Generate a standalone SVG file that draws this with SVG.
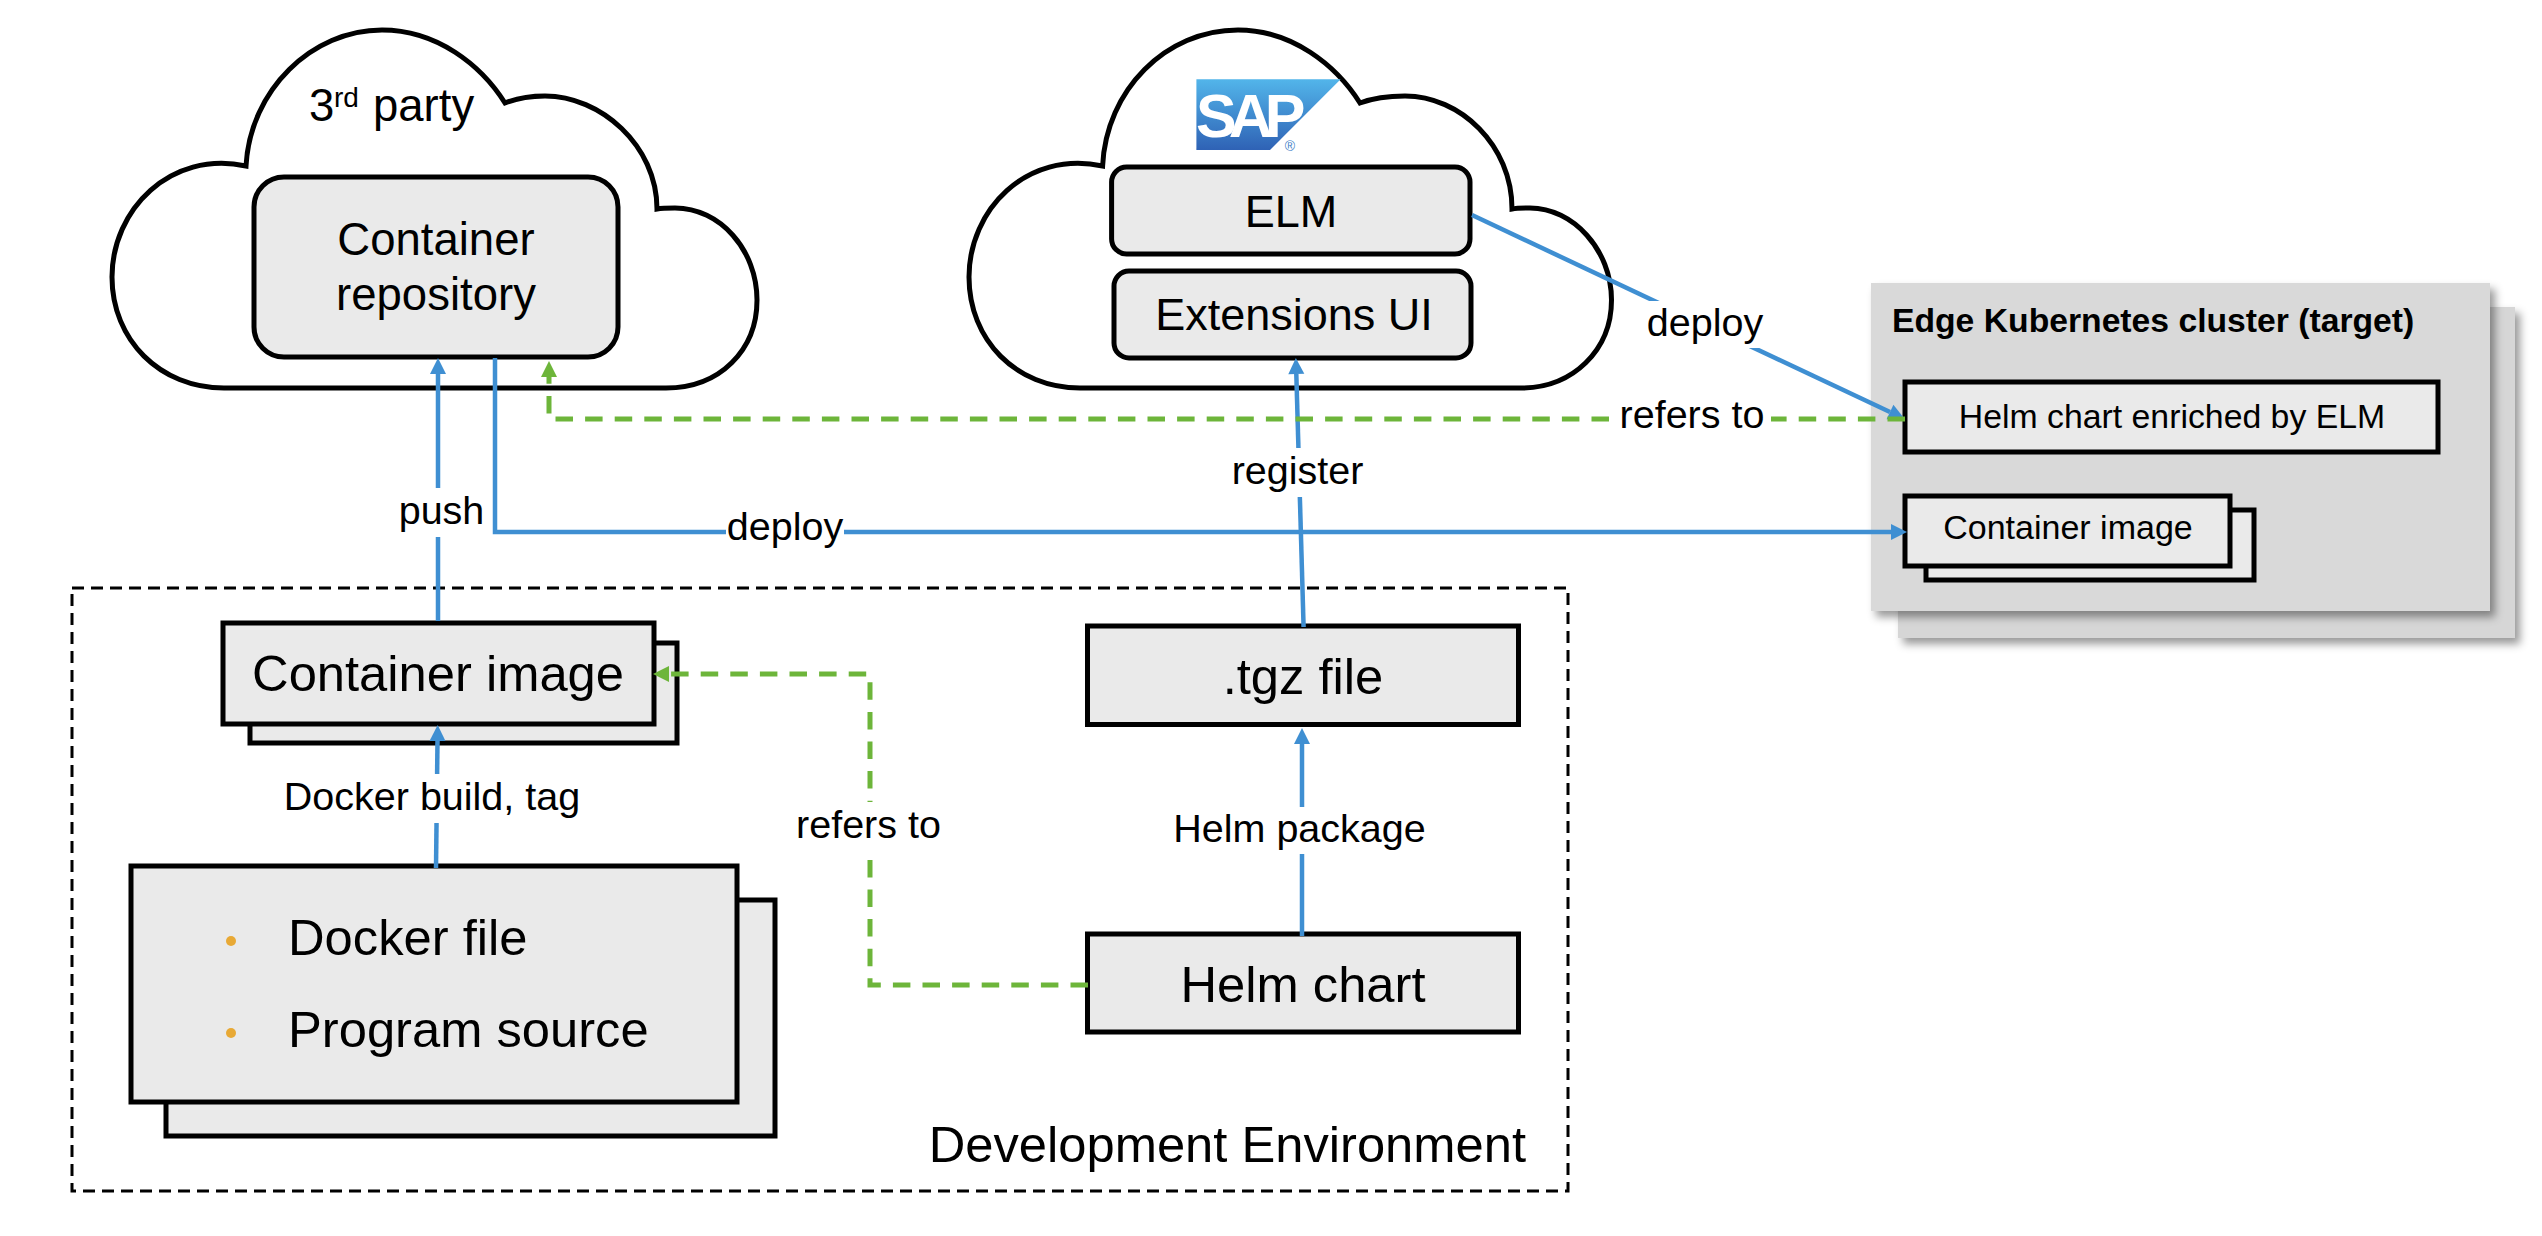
<svg xmlns="http://www.w3.org/2000/svg" width="2542" height="1236" viewBox="0 0 2542 1236">
<style>
text{font-family:"Liberation Sans",Arial,sans-serif;fill:#000}
.box{fill:#eaeaea;stroke:#000;stroke-width:5}
.cloud{fill:#fff;stroke:#000;stroke-width:5;stroke-linejoin:miter}
.blue{fill:none;stroke:#3f8fd2;stroke-width:4.5;marker-end:url(#ab)}
.green{fill:none;stroke:#6db53a;stroke-width:5;stroke-dasharray:17.5 12.1}
.mask{fill:#fff}
.lg{font-size:50.700px}.md{font-size:45.500px}.sm{font-size:39.500px}.c{text-anchor:middle}
</style>
<defs>
<marker id="ab" markerUnits="userSpaceOnUse" markerWidth="18" markerHeight="18" viewBox="0 0 18 18" refX="1" refY="9" orient="auto"><path d="M1 1L17 9L1 17Z" fill="#3f8fd2"/></marker>
<marker id="ag" markerUnits="userSpaceOnUse" markerWidth="18" markerHeight="18" viewBox="0 0 18 18" refX="1" refY="9" orient="auto"><path d="M1 1L17 9L1 17Z" fill="#6db53a"/></marker>
<linearGradient id="sapg" x1="0" y1="0" x2="0" y2="1"><stop offset="0" stop-color="#52b5ea"/><stop offset="1" stop-color="#2f62b5"/></linearGradient>
<filter id="sh" x="-5%" y="-5%" width="112%" height="115%"><feDropShadow dx="5" dy="6" stdDeviation="4" flood-color="#000" flood-opacity=".4"/></filter>
</defs>
<rect width="2542" height="1236" fill="#fff"/>

<g id="dev-environment">
<rect x="72" y="588" width="1496" height="603" fill="none" stroke="#000" stroke-width="3" stroke-dasharray="12 7"/>
<text class="lg" x="1526" y="1162" text-anchor="end">Development Environment</text>
</g>

<g id="third-party-cloud">
<path class="cloud" d="M224 388C160 388 112 340 112 277C112 210 170 150 246 166C250 90 312 30 382 30C437 30 481 65 505 103C520 97 535 96 545 96C600 96 657 145 657 209C662 208 669 208 675 208C720 208 757 250 757 300C757 350 720 388 666 388Z"/>
<text class="md" x="309" y="121">3</text>
<text x="334" y="107" font-size="28">rd</text>
<text class="md" x="373" y="121">party</text>
</g>
<g id="sap-cloud">
<path class="cloud" d="M1080 388C1016 388 969 340 969 277C969 210 1026 150 1102.600 166C1106 90 1166 30 1238 30C1292 30 1336 65 1360 103C1376 97 1395.500 96 1405 96C1460 96 1512 145 1512 209C1517 208 1524 208 1530 208C1573 208 1611.500 250 1611.500 300C1611.500 350 1573 388 1521 388Z"/>
<path d="M1196.400 79.300H1340.600L1270 150H1196.400Z" fill="url(#sapg)"/>
<text x="1196" y="137" font-size="61" font-weight="700" letter-spacing="-8" style="fill:#fff">SAP</text>
<text x="1290" y="151" font-size="14" text-anchor="middle" style="fill:#3f7fc8">®</text>
</g>

<g id="target-cluster">
<rect x="1898" y="307" width="617" height="331" fill="#d6d6d6" filter="url(#sh)"/>
<rect x="1871" y="283" width="619" height="328" fill="#d9d9d9" filter="url(#sh)"/>
<text x="1892" y="332" font-size="33.700" font-weight="700">Edge Kubernetes cluster (target)</text>
</g>

<g id="container-repository">
<rect class="box" x="254" y="177" width="364" height="180" rx="30"/>
<text class="md c" x="436" y="255">Container</text>
<text class="md c" x="436" y="310">repository</text>
</g>
<g id="elm">
<rect class="box" x="1111.600" y="167" width="358.400" height="87" rx="15"/>
<text class="c" font-size="45" x="1291" y="227">ELM</text>
</g>
<g id="extensions-ui">
<rect class="box" x="1114" y="271" width="357" height="87" rx="15"/>
<text class="c" font-size="45" x="1294" y="330">Extensions UI</text>
</g>
<g id="helm-enriched">
<rect class="box" x="1905" y="382" width="533" height="70"/>
<text class="c" font-size="33.800" x="2172" y="428">Helm chart enriched by ELM</text>
</g>
<g id="container-image-target">
<rect class="box" x="1926" y="510" width="328" height="70"/>
<rect class="box" x="1905" y="496" width="325" height="70"/>
<text class="c" font-size="34" x="2068" y="539">Container image</text>
</g>
<g id="container-image">
<rect class="box" x="250" y="643" width="427" height="100"/>
<rect class="box" x="223" y="623" width="431" height="101"/>
<text class="lg c" x="438" y="691">Container image</text>
</g>
<g id="sources">
<rect class="box" x="166" y="900" width="609" height="236"/>
<rect class="box" x="131" y="866" width="606" height="236"/>
<circle cx="231" cy="941" r="5" fill="#e8a935"/>
<circle cx="231" cy="1033" r="5" fill="#e8a935"/>
<text class="lg" x="288" y="955">Docker file</text>
<text class="lg" x="288" y="1047">Program source</text>
</g>
<g id="tgz-file">
<rect class="box" x="1087.500" y="626" width="431" height="98.500"/>
<text class="lg c" x="1303" y="694">.tgz file</text>
</g>
<g id="helm-chart">
<rect class="box" x="1087.500" y="934" width="431" height="98"/>
<text class="lg c" x="1303" y="1002">Helm chart</text>
</g>

<g id="connectors">
<path class="blue" d="M438 621V374"/>
<path class="blue" d="M495 358V532H1891"/>
<path class="blue" d="M1303.600 627L1296.300 374"/>
<path class="blue" d="M1472 215L1890 412"/>
<path class="blue" d="M436 868L437.500 741"/>
<path class="blue" d="M1302 936V744"/>
<path class="green" marker-end="url(#ag)" d="M1905 419H549V377"/>
<path class="green" marker-end="url(#ag)" d="M1088 985H870V674H669"/>
</g>

<g id="labels">
<rect class="mask" x="395" y="488" width="90" height="49"/>
<text class="sm c" x="441.500" y="524">push</text>
<rect class="mask" x="726" y="510" width="118" height="40"/>
<text class="sm c" x="785" y="540">deploy</text>
<rect class="mask" x="1225" y="448" width="145" height="49"/>
<text class="sm c" x="1297.500" y="484">register</text>
<rect class="mask" x="1611" y="398" width="160" height="42"/>
<text class="sm c" x="1692" y="428">refers to</text>
<rect class="mask" x="1640" y="301" width="130" height="47"/>
<text class="sm c" x="1705" y="336">deploy</text>
<rect class="mask" x="280" y="774" width="305" height="49"/>
<text class="sm c" x="432" y="810">Docker build, tag</text>
<rect class="mask" x="1170" y="807" width="260" height="47"/>
<text class="sm c" x="1299.500" y="842">Helm package</text>
<rect class="mask" x="790" y="802" width="160" height="58"/>
<text class="sm c" x="868.500" y="838">refers to</text>
</g>
</svg>
